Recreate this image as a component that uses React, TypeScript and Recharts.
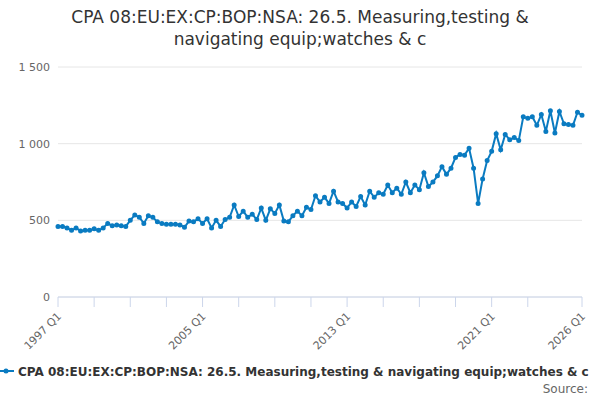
import { CartesianGrid, Line, LineChart, XAxis, YAxis } from "recharts";

const years = Array.from({ length: 30 }, (_, i) => 1997 + i);

const values: number[] = [
  460, 460, 450, 435,
  450, 430, 435, 435,
  445, 435, 450, 480,
  465, 470, 465, 460,
  500, 535, 520, 480,
  530, 520, 490, 480,
  475, 475, 475, 470,
  455, 495, 490, 510,
  480, 510, 450, 500,
  460, 505, 520, 600,
  525, 560, 520, 540,
  505, 580, 500, 575,
  545, 600, 495, 490,
  530, 560, 530, 585,
  570, 660, 620, 650,
  610, 690, 620, 610,
  580, 620, 590, 655,
  600, 690, 650, 680,
  670, 730, 680, 710,
  670, 750, 680, 730,
  700, 810, 720, 750,
  790, 850, 800, 840,
  910, 930, 925, 970,
  840, 610, 770, 890,
  950, 1065, 960, 1060,
  1025, 1040, 1020, 1175,
  1165, 1175, 1120, 1190,
  1080, 1215, 1070, 1210,
  1130, 1125, 1120, 1205,
  1185,
];

const labels = ["1997 Q1", "2005 Q1", "2013 Q1", "2021 Q1", "2026 Q1"];

const data = values.map((v, i) => ({
  q: `${years[Math.floor(i / 4)]} Q${(i % 4) + 1}`,
  v,
}));

const tickList = data.filter((_, i) => i % 8 === 0 && i <= 104).map((d) => d.q).concat(["2026 Q1"]);

const font = "'DejaVu Sans', Verdana, sans-serif";

function XTick({ x, y, payload }: any) {
  if (!labels.includes(payload.value)) return null;
  return (
    <text x={x + 4} y={y + 8} transform={`rotate(-45 ${x + 4} ${y + 8})`} textAnchor="end" fontSize={11} fill="#666" fontFamily={font}>
      {payload.value}
    </text>
  );
}

export default function App() {
  return (
    <div style={{ position: "absolute", left: 0, top: 0, width: 600, height: 400, overflow: "hidden", fontFamily: font, background: "#fff" }}>
      <div style={{ position: "absolute", top: 6, left: 0, width: 600, textAlign: "center", fontSize: 17, lineHeight: "22px", color: "#333" }}>
        CPA 08:EU:EX:CP:BOP:NSA: 26.5. Measuring,testing &amp;<br />navigating equip;watches &amp; c
      </div>
      <LineChart width={600} height={400} data={data} margin={{ top: 67, right: 18, bottom: 73, left: 0 }}>
        <CartesianGrid vertical={false} stroke="#e6e6e6" />
        <XAxis dataKey="q" ticks={tickList} interval={0} tick={<XTick />} stroke="#ccd6eb" tickSize={10} />
        <YAxis width={58} domain={[0, 1500]} ticks={[0, 500, 1000, 1500]} axisLine={false} tickLine={false}
          tickFormatter={(v: number) => v.toLocaleString("en").replace(",", " ")}
          tick={{ fontSize: 11, fill: "#666", fontFamily: font }} />
        <Line dataKey="v" stroke="#0a7bc1" strokeWidth={2} dot={{ r: 1.5, fill: "#0a7bc1", stroke: "#0a7bc1" }} isAnimationActive={false} />
      </LineChart>
      <div style={{ position: "absolute", top: 365, left: -2, whiteSpace: "nowrap", fontSize: 12, fontWeight: "bold", color: "#333" }}>
        <svg width={16} height={10} style={{ marginRight: 4 }}>
          <line x1={0} y1={5} x2={16} y2={5} stroke="#0a7bc1" strokeWidth={2} />
          <circle cx={8} cy={5} r={2.5} fill="#0a7bc1" />
        </svg>
        CPA 08:EU:EX:CP:BOP:NSA: 26.5. Measuring,testing &amp; navigating equip;watches &amp; c
      </div>
      <div style={{ position: "absolute", top: 382, right: 12, fontSize: 12, color: "#666" }}>Source:</div>
    </div>
  );
}
